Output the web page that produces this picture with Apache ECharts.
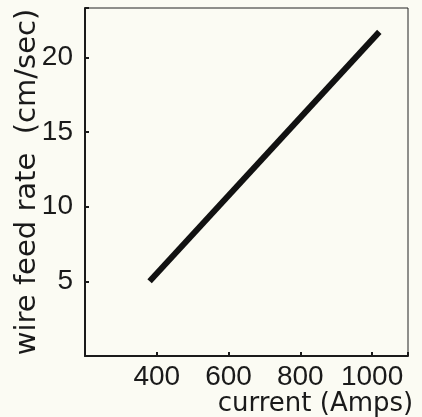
<!DOCTYPE html>
<html>
<head>
<meta charset="utf-8">
<script src="https://cdn.jsdelivr.net/npm/echarts@6/dist/echarts.min.js"></script>
<style>
html, body { margin: 0; padding: 0; background: #fbfbf3; }
#chart { width: 422px; height: 417px; }
</style>
</head>
<body>
<div id="chart"></div>
<script>
// wire feed rate vs current
var currentAmps = [380, 1020];
var feedRate = [5, 21.7];
var xTickLabels = ['400', '600', '800', '1000'];
var yTickLabels = ['5', '10', '15', '20'];

var tickFont = 'Liberation Sans';
var nameFont = 'DejaVu Sans';
var linePoints = [];
for (var i = 0; i < currentAmps.length; i++) {
	linePoints.push([currentAmps[i], feedRate[i]]);
}

var chart = echarts.init(document.getElementById('chart'));
chart.setOption({
	backgroundColor: '#fbfbf3',
	animation: false,
	grid: {
		left: 85, right: 14, top: 8, bottom: 61,
		outerBoundsMode: 'none',
		containLabel: false,
		show: true,
		borderColor: '#222',
		borderWidth: 1,
		backgroundColor: 'transparent'
	},
	xAxis: {
		type: 'value',
		min: 200, max: 1100, interval: 200,
		name: 'current (Amps)',
		nameLocation: 'middle',
		nameGap: 35,
		nameMoveOverlap: false,
		nameTextStyle: {
			color: '#1a1a1a', fontSize: 26, fontFamily: nameFont,
			padding: [0, 0, 0, 138]
		},
		axisLine: { show: true, lineStyle: { color: '#1a1a1a', width: 2 } },
		axisTick: { show: true, inside: true, length: 4, lineStyle: { color: '#1a1a1a', width: 2 } },
		splitLine: { show: false },
		axisLabel: {
			color: '#1a1a1a', fontSize: 28, fontFamily: tickFont, margin: 7,
			formatter: function (v) {
				return xTickLabels.indexOf(String(v)) >= 0 ? String(v) : '';
			}
		}
	},
	yAxis: {
		type: 'value',
		min: 0, max: 23.3, interval: 5,
		name: 'wire feed rate  (cm/sec)',
		nameLocation: 'middle',
		nameGap: 43,
		nameMoveOverlap: false,
		nameTextStyle: { color: '#1a1a1a', fontSize: 29, fontFamily: nameFont },
		axisLine: { show: true, lineStyle: { color: '#1a1a1a', width: 2 } },
		axisTick: { show: true, inside: true, length: 4, lineStyle: { color: '#1a1a1a', width: 2 } },
		splitLine: { show: false },
		axisLabel: {
			color: '#1a1a1a', fontSize: 28, fontFamily: tickFont, margin: 12,
			formatter: function (v) {
				return yTickLabels.indexOf(String(v)) >= 0 ? String(v) : '';
			}
		}
	},
	series: [{
		type: 'line',
		data: linePoints,
		symbol: 'none',
		lineStyle: { color: '#111', width: 6 }
	}]
});
</script>
</body>
</html>
